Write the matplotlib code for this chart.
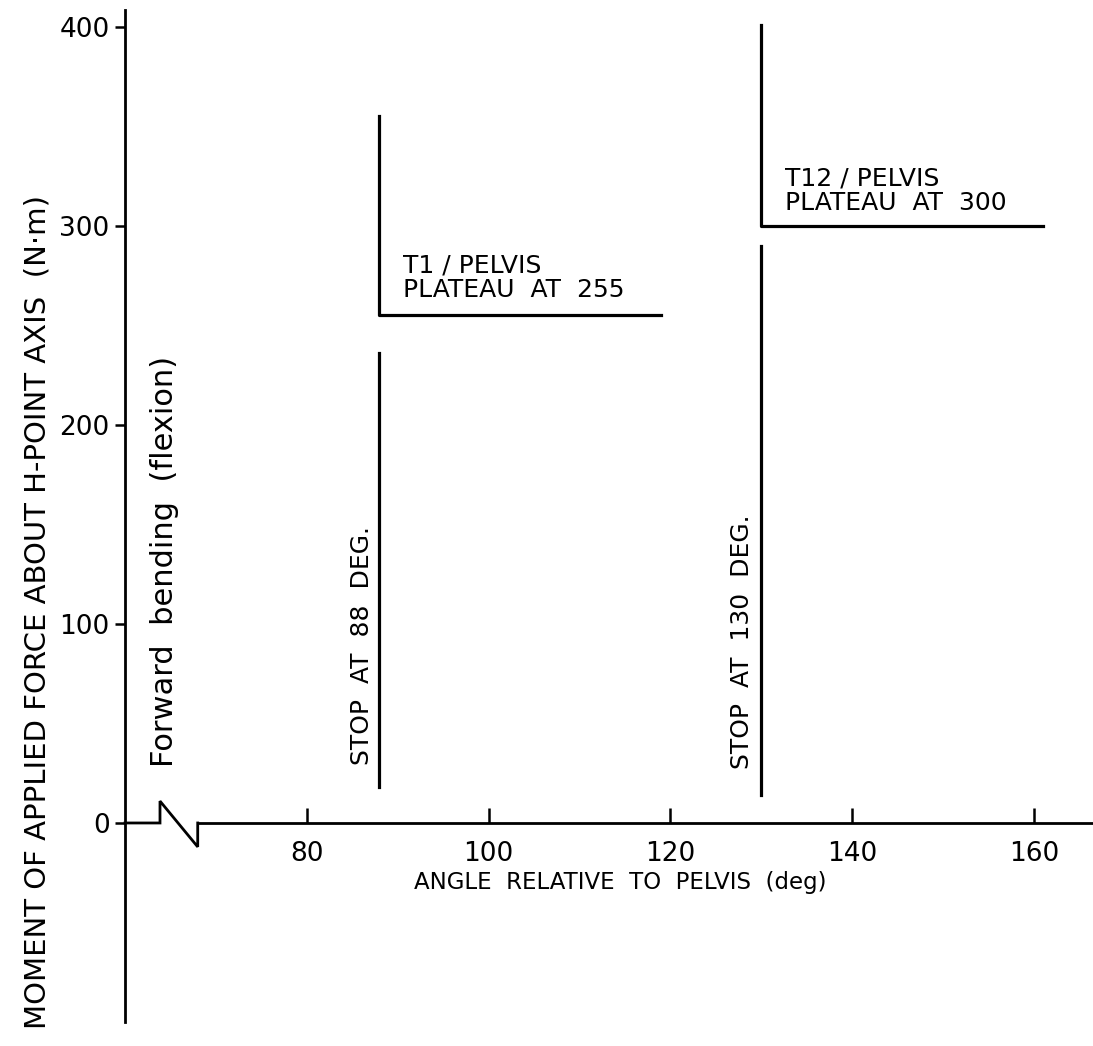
import matplotlib
matplotlib.use("Agg")
import matplotlib.pyplot as plt

# stop angles and moment levels read for each stop (N·m)
stop_angles = [88, 130]
stop_low = [18, 14]
stop_high = [236, 290]
plateau_values = [255, 300]
plateau_tops = [355, 401]
plateau_ends = [119, 161]
plateau_labels = ["T1 / PELVIS\nPLATEAU  AT  255", "T12 / PELVIS\nPLATEAU  AT  300"]
stop_labels = ["STOP  AT  88  DEG.", "STOP  AT  130  DEG."]

x_ticks = [80, 100, 120, 140, 160]
y_ticks = [0, 100, 200, 300, 400]

# axis break near the origin
break_x = [60, 63.85, 63.85, 68, 68]
break_y = [0, 0, 11, -12, 0]

plt.rcParams['font.family'] = 'DejaVu Sans'
fig = plt.figure(figsize=(10.93, 10.46), dpi=100)
ax = fig.add_axes([125 / 1093, 24 / 1046, 968 / 1093, 1012 / 1046])
ax.set_xlim(60, 166.5)
ax.set_ylim(-100, 408.5)

for s in ['top', 'right']:
    ax.spines[s].set_visible(False)
ax.spines['left'].set_linewidth(2.0)
ax.spines['bottom'].set_position(('data', 0))
ax.spines['bottom'].set_bounds(68, 166.5)
ax.spines['bottom'].set_linewidth(2.0)
ax.plot(break_x, break_y, color='black', lw=2.0, clip_on=False, solid_joinstyle='miter')

ax.set_xticks(x_ticks)
ax.set_yticks(y_ticks)
ax.tick_params(axis='x', direction='in', length=11, width=1.8, labelsize=19, pad=13)
ax.tick_params(axis='y', direction='out', length=7, width=1.8, labelsize=19, pad=4)

for i in range(len(stop_angles)):
    a = stop_angles[i]
    # lower segment: loading up to the stop
    ax.plot([a, a], [stop_low[i], stop_high[i]], color='black', lw=2.3)
    # upper segment and plateau
    ax.plot([a, a, plateau_ends[i]], [plateau_tops[i], plateau_values[i], plateau_values[i]],
            color='black', lw=2.3, solid_joinstyle='round')

ax.text(90.6, 262, plateau_labels[0], fontsize=18, ha='left', va='bottom', linespacing=1.0)
ax.text(132.6, 305.5, plateau_labels[1], fontsize=18, ha='left', va='bottom', linespacing=1.0)
ax.text(86.1, 89, stop_labels[0], fontsize=18, rotation=90, ha='center', va='center')
ax.text(127.9, 91, stop_labels[1], fontsize=18, rotation=90, ha='center', va='center')
ax.text(64.4, 131.5, "Forward  bending  (flexion)", fontsize=22, rotation=90, ha='center', va='center')

ax.text(114.5, -30, "ANGLE  RELATIVE  TO  PELVIS  (deg)", fontsize=16.5, ha='center', va='center')
ax.text(-0.09, 0.405, "MOMENT OF APPLIED FORCE ABOUT H-POINT AXIS  (N·m)", fontsize=21,
        rotation=90, ha='center', va='center', transform=ax.transAxes)

fig.savefig("out.png", dpi=100)
